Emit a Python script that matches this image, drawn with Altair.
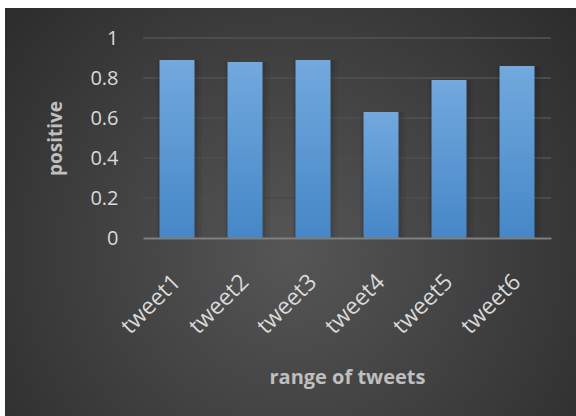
import altair as alt
import pandas as pd

categories = ["tweet1", "tweet2", "tweet3", "tweet4", "tweet5", "tweet6"]
positive = [0.89, 0.88, 0.89, 0.63, 0.79, 0.86]
grid_values = [0.2, 0.4, 0.6, 0.8, 1.0]
y_ticks = [0, 0.2, 0.4, 0.6, 0.8, 1.0]

df = pd.DataFrame({"tweet": categories, "positive": positive})
grid_df = pd.DataFrame({"positive": grid_values})
bg_df = pd.DataFrame({"a": [0]})

FONT = "Open Sans"

x_axis = alt.Axis(
    title="range of tweets",
    labelAngle=-45,
    labelAlign="right",
    labelBaseline="middle",
    labelPadding=40,
    labelFontSize=23,
    labelColor="#d9d9d9",
    labelFont=FONT,
    ticks=False,
    tickSize=0,
    domain=True,
    domainColor="#7f7f7f",
    domainWidth=2,
    grid=False,
    titleFont=FONT,
    titleFontSize=20,
    titleFontWeight="bold",
    titleColor="#bfbfbf",
    titleY=139,
    titleBaseline="middle",
    zindex=1,
)

y_axis = alt.Axis(
    title="positive",
    values=y_ticks,
    format="~g",
    labelFontSize=20,
    labelColor="#d9d9d9",
    labelFont=FONT,
    labelPadding=25,
    ticks=False,
    tickSize=0,
    domain=False,
    grid=False,
    titleFont=FONT,
    titleFontSize=19,
    titleFontWeight="bold",
    titleColor="#bfbfbf",
    titleX=-88,
    titleY=100,
    titleAngle=-90,
    titleAlign="center",
    titleBaseline="middle",
    zindex=1,
)

x_enc = alt.X("tweet:N", sort=categories,
              scale=alt.Scale(paddingInner=0, paddingOuter=0), axis=x_axis)
y_enc = alt.Y("positive:Q", scale=alt.Scale(domain=[0, 1], nice=False), axis=y_axis)

background = alt.Chart(bg_df).mark_rect(
    fill=alt.RadialGradient(
        gradient="radial",
        x1=0.5, y1=0.57, r1=0.0,
        x2=0.5, y2=0.57, r2=0.75,
        stops=[
            alt.GradientStop(offset=0, color="#565656"),
            alt.GradientStop(offset=1, color="#262626"),
        ],
    )
).encode(
    x=alt.value(-138), x2=alt.value(433),
    y=alt.value(-30), y2=alt.value(378),
)

grid = alt.Chart(grid_df).mark_rule(color="#4c4c4c", strokeWidth=2).encode(y=y_enc)

shadow = alt.Chart(df).mark_bar(width=45, color="black", opacity=0.06, xOffset=2).encode(
    x=x_enc, y=y_enc
)
shadow2 = alt.Chart(df).mark_bar(width=40, color="black", opacity=0.08, xOffset=1).encode(
    x=x_enc, y=y_enc
)

bars = alt.Chart(df).mark_bar(
    width=35,
    color=alt.LinearGradient(
        gradient="linear",
        x1=0, y1=0, x2=0, y2=1,
        stops=[
            alt.GradientStop(offset=0, color="#72a9de"),
            alt.GradientStop(offset=1, color="#4587c7"),
        ],
    ),
).encode(x=x_enc, y=y_enc)

chart = alt.layer(background, grid, shadow, shadow2, bars).properties(
    width=408,
    height=200,
    background="white",
    padding={"left": 143, "top": 38, "right": 25, "bottom": 178},
    autosize=alt.AutoSizeParams(type="none"),
).configure_view(stroke=None)

chart.save("out.html", embed_options={"renderer": "svg", "actions": False})
